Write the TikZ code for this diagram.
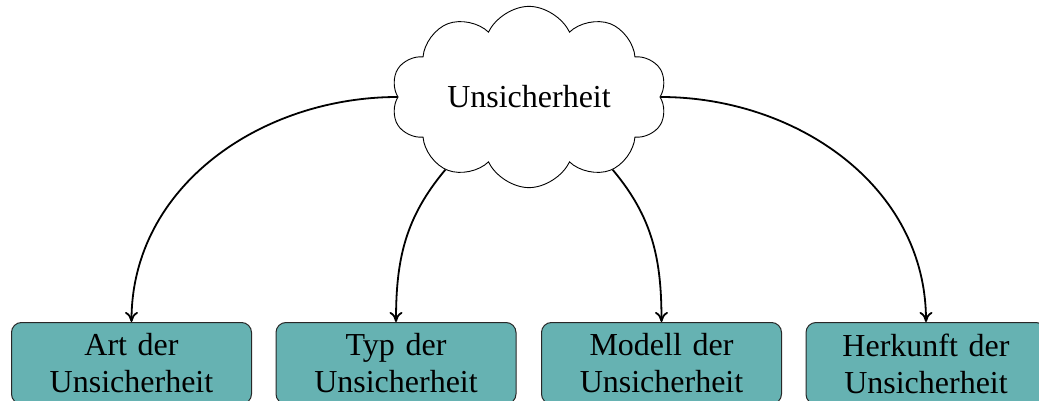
\documentclass[tikz,border=0pt]{standalone}
\usepackage{fontspec}
\setmainfont{Liberation Serif}
\usetikzlibrary{shapes.symbols,arrows.meta}
\definecolor{boxfill}{RGB}{102,178,178}
\definecolor{boxline}{RGB}{40,40,40}
\tikzset{
  label font/.style={font=\fontsize{32}{37}\selectfont},
  topic/.style={cloud, cloud puffs=10, cloud puff arc=130, aspect=1.62, draw, line width=0.9pt,
    minimum width=276pt, minimum height=150pt, inner sep=0pt, label font},
  aspectbox/.style={rectangle, rounded corners=10pt, draw=boxline, line width=1pt,
    fill=boxfill, text width=220pt, align=center, inner xsep=10pt, inner ysep=11pt,
    anchor=north, label font},
  link/.style={line width=1.8pt, -{To[length=10pt,width=13pt]}},
}
\begin{document}
\begin{tikzpicture}[x=1pt,y=1pt]
  \clip (0,0) rectangle (1039,-401);
  % central concept
  \node[topic] (u) at (529,-97) {Unsicherheit};
  % the four aspects
  \node[aspectbox] (b1) at (131.5,-322) {Art der\\Unsicherheit};
  \node[aspectbox] (b2) at (396,-322) {Typ der\\Unsicherheit};
  \node[aspectbox] (b3) at (661.5,-322) {Modell der\\Unsicherheit};
  \node[aspectbox] (b4) at (926,-322) {Herkunft der\\Unsicherheit};
  % connectors
  \draw[link] (u.west) to[out=180,in=90] (b1.north);
  \draw[link] (u.-139) to[out=-130,in=90] (b2.north);
  \draw[link] (u.-41) to[out=-50,in=90] (b3.north);
  \draw[link] (u.east) to[out=0,in=90] (b4.north);
\end{tikzpicture}
\end{document}
